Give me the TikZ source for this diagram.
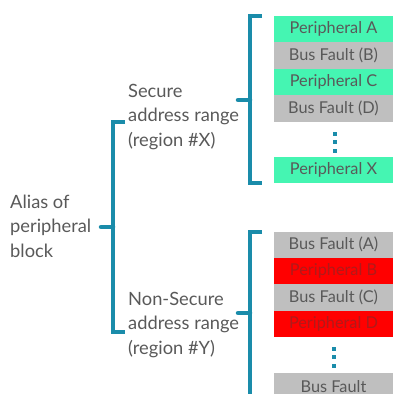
\documentclass[tikz,border=0pt]{standalone}
\usepackage{fontspec}
\setmainfont{Lato}
\definecolor{bracecol}{HTML}{1A8CAA}
\definecolor{labeltxt}{HTML}{595959}
\definecolor{mint}{HTML}{45F5B2}
\definecolor{busgray}{HTML}{BFBFBF}
\definecolor{nsred}{HTML}{FF0000}
\definecolor{nsredtxt}{HTML}{B01A1A}
\tikzset{
  cell/.style={minimum width=119pt, minimum height=26.4pt, inner sep=0pt, outer sep=0pt,
    anchor=north west, text=labeltxt, font=\fontsize{16.3}{19}\selectfont},
  securecell/.style={cell, fill=mint},
  faultcell/.style={cell, fill=busgray},
  nscell/.style={cell, fill=nsred, text=nsredtxt},
  label/.style={anchor=west, align=left, inner sep=0pt, text=labeltxt,
    font=\fontsize{18.3}{24.5}\selectfont},
  bracket/.style={draw=bracecol, line width=4.5pt, line join=miter},
  dot/.style={fill=bracecol, minimum size=4pt, inner sep=0pt, outer sep=0pt}
}
\begin{document}
\begin{tikzpicture}[x=1pt, y=-1pt]
\useasboundingbox (0,0) rectangle (393,394);
\clip (0,0) rectangle (393,394);

% left-hand labels
\node[label] (alias) at (10,226) {Alias of\\peripheral\\block};
\node[label] (secure) at (128,117) {Secure\\address range\\(region \#X)};
\node[label] (nonsec) at (128,325) {Non-Secure\\address range\\(region \#Y)};

% secure alias map
\node[securecell] (sA) at (274,16)   {Peripheral A};
\node[faultcell]  (sB) at (274,42.4) {Bus Fault (B)};
\node[securecell] (sC) at (274,68.8) {Peripheral C};
\node[faultcell]  (sD) at (274,95.2) {Bus Fault (D)};
\node[securecell] (sX) at (274,157)  {Peripheral X};
\node[dot] (sd1) at (335,133.5) {};
\node[dot] (sd2) at (335,142.2) {};
\node[dot] (sd3) at (335,151)   {};

% non-secure alias map
\node[faultcell] (nA) at (274,231.5) {Bus Fault (A)};
\node[nscell]    (nB) at (274,257.9) {Peripheral B};
\node[faultcell] (nC) at (274,284.3) {Bus Fault (C)};
\node[nscell]    (nD) at (274,310.7) {Peripheral D};
\node[faultcell] (nX) at (274,373)   {Bus Fault};
\node[dot] (nd1) at (334,348.5) {};
\node[dot] (nd2) at (334,357.2) {};
\node[dot] (nd3) at (334,366)   {};

% brackets
\coordinate (lt) at (113,122);
\coordinate (lb) at (113,332);
\coordinate (lm) at (113,227);
\draw[bracket] ([xshift=12pt]lt) -- (lt) -- (lb) -- ([xshift=12pt]lb);
\draw[bracket, line cap=round] (lm) -- ([xshift=-12pt]lm);

\coordinate (st) at (250,16);
\coordinate (sb) at (250,183);
\coordinate (sm) at (250,100);
\draw[bracket] ([xshift=12pt]st) -- (st) -- (sb) -- ([xshift=12pt]sb);
\draw[bracket, line cap=round] (sm) -- ([xshift=-12pt]sm);

\coordinate (nt) at (250,232);
\coordinate (nb) at (250,400);
\coordinate (nm) at (250,313);
\draw[bracket] ([xshift=12pt]nt) -- (nt) -- (nb);
\draw[bracket, line cap=round] (nm) -- ([xshift=-12pt]nm);
\end{tikzpicture}
\end{document}
